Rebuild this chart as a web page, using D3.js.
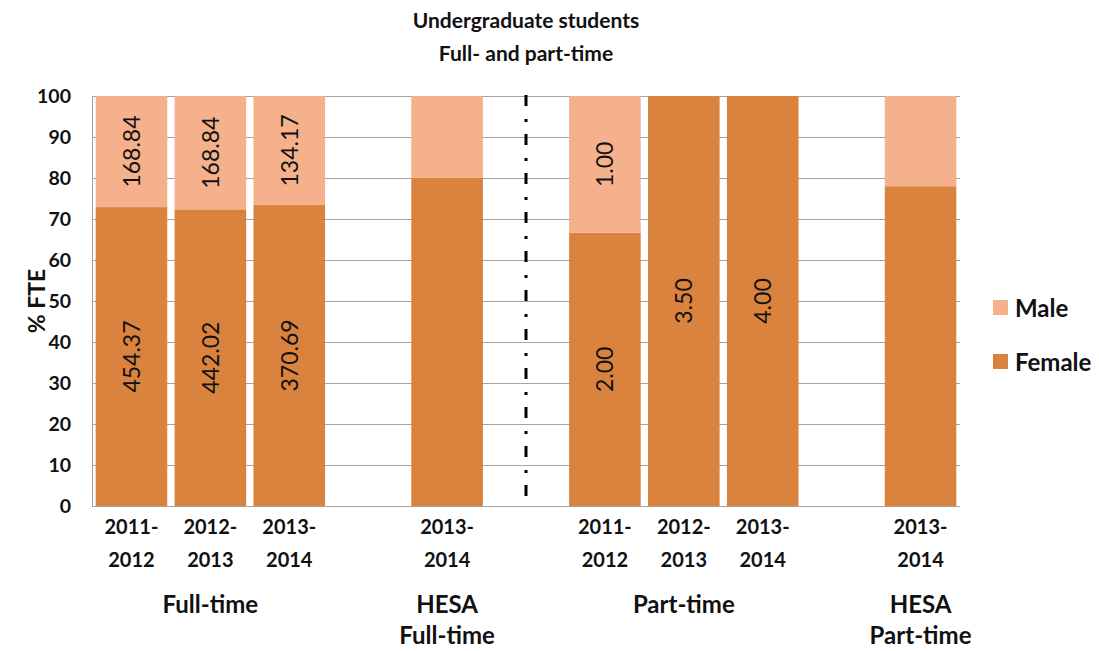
<!DOCTYPE html>
<html>
<head>
<meta charset="utf-8">
<script src="https://cdn.jsdelivr.net/npm/d3@7/dist/d3.min.js"></script>
<style>
  html, body { margin: 0; padding: 0; background: #fff; }
  svg { display: block; font-family: Lato, "Open Sans", sans-serif; }
</style>
</head>
<body>
<svg id="chart" width="1099" height="651"></svg>
<script>
// Slots along the x axis (empty slots separate the groups)
const slots = ["ft1112", "ft1213", "ft1314", "gapA", "hesaFt", "divider", "pt1112", "pt1213", "pt1314", "gapB", "hesaPt"];

// One entry per bar
const barSlots   = ["ft1112", "ft1213", "ft1314", "hesaFt", "pt1112", "pt1213", "pt1314", "hesaPt"];
const yearLabels = ["2011-2012", "2012-2013", "2013-2014", "2013-2014", "2011-2012", "2012-2013", "2013-2014", "2013-2014"];
const femaleFTE  = [454.37, 442.02, 370.69, null, 2.00, 3.50, 4.00, null];
const maleFTE    = [168.84, 168.84, 134.17, null, 1.00, 0, 0, null];
// HESA comparison bars carry no counts, only a female share (%)
const hesaFemalePct = { hesaFt: 80, hesaPt: 78 };

// Group captions under the year labels
const groupSlots  = ["ft1213", "hesaFt", "pt1213", "hesaPt"];
const groupLabels = [["Full-time"], ["HESA", "Full-time"], ["Part-time"], ["HESA", "Part-time"]];

const yTicks = [0, 10, 20, 30, 40, 50, 60, 70, 80, 90, 100];
const seriesNames = ["Male", "Female"];
const colors = { Female: "#d9833e", Male: "#f5b18c" };

const svg = d3.select("#chart");
const plot = { left: 92, right: 960, top: 96, bottom: 506 };

const x = d3.scaleBand().domain(slots).range([plot.left, plot.right])
  .paddingInner(0.093).paddingOuter(0.0465);
const y = d3.scaleLinear().domain([0, 100]).range([plot.bottom, plot.top]);

// Build stacked records in percent
const bars = barSlots.map((s, i) => {
  let f, m;
  if (femaleFTE[i] != null) {
    const tot = femaleFTE[i] + maleFTE[i];
    f = femaleFTE[i] / tot * 100;
    m = maleFTE[i] / tot * 100;
  } else {
    f = hesaFemalePct[s];
    m = 100 - f;
  }
  return { slot: s, year: yearLabels[i], female: f, male: m, fLab: femaleFTE[i], mLab: maleFTE[i] };
});

// Gridlines
svg.append("g").selectAll("line").data(yTicks).join("line")
  .attr("x1", plot.left).attr("x2", plot.right)
  .attr("y1", d => y(d)).attr("y2", d => y(d))
  .attr("stroke", "#a3a3a3").attr("stroke-width", 1)
  .attr("shape-rendering", "crispEdges");

// Y axis line
svg.append("line")
  .attr("x1", plot.left).attr("x2", plot.left)
  .attr("y1", plot.top).attr("y2", plot.bottom)
  .attr("stroke", "#a3a3a3").attr("shape-rendering", "crispEdges");

// Y tick labels
svg.append("g").selectAll("text").data(yTicks).join("text")
  .attr("x", plot.left - 21).attr("y", d => y(d))
  .attr("dy", "0.36em").attr("text-anchor", "end")
  .attr("font-size", 19.5).attr("font-weight", 700).attr("fill", "#111")
  .text(d => d);

// Y axis title
svg.append("text")
  .attr("transform", `translate(37,${(plot.top + plot.bottom) / 2}) rotate(-90)`)
  .attr("text-anchor", "middle").attr("dy", "0.36em")
  .attr("font-size", 23).attr("font-weight", 700).attr("fill", "#111")
  .text("% FTE");

// Stacked bars
const bw = x.bandwidth();
const bg = svg.append("g");
bg.selectAll("rect.female").data(bars).join("rect")
  .attr("class", "female")
  .attr("x", d => x(d.slot)).attr("width", bw)
  .attr("y", d => y(d.female)).attr("height", d => y(0) - y(d.female))
  .attr("fill", colors.Female);
bg.selectAll("rect.male").data(bars.filter(d => d.male > 0)).join("rect")
  .attr("class", "male")
  .attr("x", d => x(d.slot)).attr("width", bw)
  .attr("y", d => y(d.female + d.male)).attr("height", d => y(d.female) - y(d.female + d.male))
  .attr("fill", colors.Male);

// Bottom axis line
svg.append("line")
  .attr("x1", plot.left).attr("x2", plot.right)
  .attr("y1", plot.bottom).attr("y2", plot.bottom)
  .attr("stroke", "#a3a3a3").attr("shape-rendering", "crispEdges");

// Value labels (FTE counts) rotated inside each segment
const lab = svg.append("g")
  .attr("font-size", 23).attr("fill", "#111").attr("text-anchor", "middle");
bars.filter(d => d.fLab != null).forEach(d => {
  const cx = x(d.slot) + bw / 2;
  const cy = (y(0) + y(d.female)) / 2;
  lab.append("text")
    .attr("transform", `translate(${cx},${cy}) rotate(-90)`)
    .attr("dy", "0.36em").text(d.fLab.toFixed(2));
  if (d.mLab) {
    const my = (y(d.female) + y(d.female + d.male)) / 2;
    lab.append("text")
      .attr("transform", `translate(${cx},${my}) rotate(-90)`)
      .attr("dy", "0.36em").text(d.mLab.toFixed(2));
  }
});

// Dash-dot divider between full-time and part-time
svg.append("line")
  .attr("x1", x("divider") + bw / 2).attr("x2", x("divider") + bw / 2)
  .attr("y1", plot.top - 1).attr("y2", plot.bottom)
  .attr("stroke", "#000").attr("stroke-width", 3)
  .attr("stroke-dasharray", "11,13,3,12");

// Year labels (two lines)
const xl = svg.append("g")
  .attr("font-size", 20).attr("font-weight", 700).attr("fill", "#111").attr("text-anchor", "middle");
bars.forEach(d => {
  const parts = d.year.split("-");
  const cx = x(d.slot) + bw / 2;
  const t = xl.append("text");
  t.append("tspan").attr("x", cx).attr("y", 534).text(parts[0] + "-");
  t.append("tspan").attr("x", cx).attr("y", 567).text(parts[1]);
});

// Group captions
const gl = svg.append("g")
  .attr("font-size", 24).attr("font-weight", 700).attr("fill", "#111").attr("text-anchor", "middle");
groupSlots.forEach((s, i) => {
  const t = gl.append("text");
  groupLabels[i].forEach((line, j) => {
    t.append("tspan").attr("x", x(s) + bw / 2).attr("y", 613 + j * 31).text(line);
  });
});

// Title
const title = svg.append("text")
  .attr("text-anchor", "middle").attr("font-size", 21).attr("font-weight", 700).attr("fill", "#111");
title.append("tspan").attr("x", (plot.left + plot.right) / 2).attr("y", 28).text("Undergraduate students");
title.append("tspan").attr("x", (plot.left + plot.right) / 2).attr("y", 61).text("Full- and part-time");

// Legend
const leg = svg.append("g").attr("transform", "translate(993,300)");
seriesNames.forEach((name, i) => {
  const g = leg.append("g").attr("transform", `translate(0,${i * 54})`);
  g.append("rect").attr("width", 15).attr("height", 15).attr("fill", colors[name]);
  g.append("text").attr("x", 22).attr("y", 8).attr("dy", "0.36em")
    .attr("font-size", 24).attr("font-weight", 700).attr("fill", "#111").text(name);
});
</script>
</body>
</html>
